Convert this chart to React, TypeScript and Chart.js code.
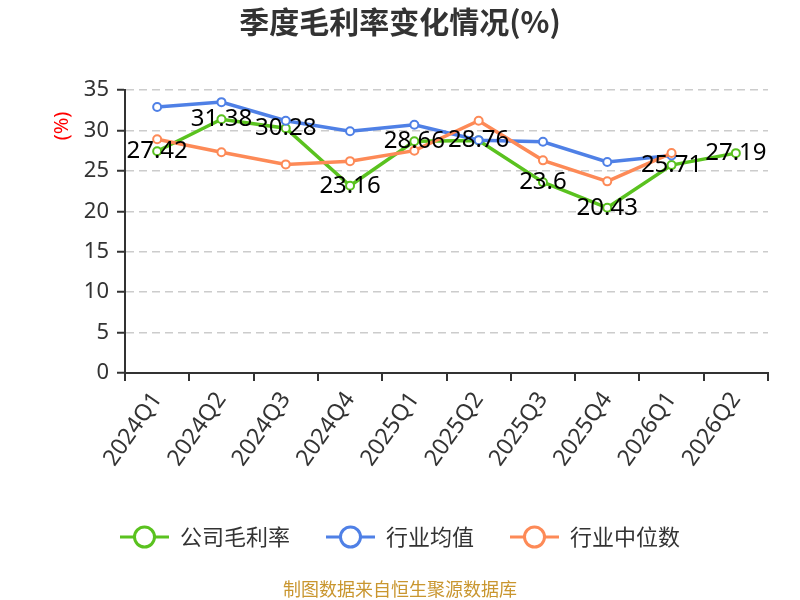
import React, { useEffect, useRef } from "react";
import { Chart, registerables } from "chart.js";

Chart.register(...registerables);

const categories = ["2024Q1", "2024Q2", "2024Q3", "2024Q4", "2025Q1", "2025Q2", "2025Q3", "2025Q4", "2026Q1", "2026Q2"];
const companyMargin = [27.42, 31.38, 30.28, 23.16, 28.66, 28.76, 23.6, 20.43, 25.71, 27.19];
const industryAvg = [32.9, 33.5, 31.2, 29.9, 30.7, 28.8, 28.6, 26.1, 26.9, null];
const industryMedian = [28.9, 27.3, 25.8, 26.2, 27.5, 31.2, 26.3, 23.7, 27.2, null];
const seriesNames = ["公司毛利率", "行业均值", "行业中位数"];
const seriesColors = ["#5ac21f", "#4f80e6", "#fd8a57"];
const titleText = "季度毛利率变化情况(%)";
const yTitleText = "(%)";
const footerText = "制图数据来自恒生聚源数据库";

const FONT = "'Noto Sans', 'Noto Sans CJK SC', sans-serif";

const labelPlugin = {
  id: "customDecor",
  afterDatasetsDraw(chart: any) {
    const ctx = chart.ctx;
    const meta = chart.getDatasetMeta(0);
    ctx.save();
    ctx.font = `24px ${FONT}`;
    ctx.fillStyle = "#000";
    ctx.textAlign = "center";
    ctx.textBaseline = "middle";
    meta.data.forEach((el: any, i: number) => {
      const v = companyMargin[i];
      if (v == null) return;
      ctx.fillText(String(v), el.x, el.y);
    });
    ctx.restore();
  },
  afterDraw(chart: any) {
    const ctx = chart.ctx;
    ctx.save();
    // title
    ctx.font = `bold 30px 'Noto Sans CJK SC', ${FONT}`;
    ctx.fillStyle = "#333";
    ctx.textAlign = "center";
    ctx.textBaseline = "middle";
    ctx.fillText(titleText, 400, 22);
    // y title
    ctx.save();
    ctx.translate(62, 126);
    ctx.rotate(-Math.PI / 2);
    ctx.font = `20px ${FONT}`;
    ctx.fillStyle = "#ff0000";
    ctx.fillText(yTitleText, 0, 0);
    ctx.restore();
    // legend
    ctx.font = `22px 'Noto Sans CJK SC', ${FONT}`;
    const iconW = 49, gapText = 11, gapItem = 36;
    const widths = seriesNames.map((n) => ctx.measureText(n).width);
    const total = widths.reduce((a, b) => a + b, 0) + seriesNames.length * (iconW + gapText) + (seriesNames.length - 1) * gapItem;
    let x = 400 - total / 2;
    const ly = 537;
    seriesNames.forEach((n, i) => {
      ctx.strokeStyle = seriesColors[i];
      ctx.lineWidth = 3;
      ctx.beginPath();
      ctx.moveTo(x, ly);
      ctx.lineTo(x + iconW, ly);
      ctx.stroke();
      ctx.beginPath();
      ctx.arc(x + iconW / 2, ly, 10, 0, Math.PI * 2);
      ctx.fillStyle = "#fff";
      ctx.fill();
      ctx.stroke();
      ctx.fillStyle = "#333";
      ctx.textAlign = "left";
      ctx.textBaseline = "middle";
      ctx.fillText(n, x + iconW + gapText, ly);
      x += iconW + gapText + widths[i] + gapItem;
    });
    // footer
    ctx.font = `18px 'Noto Sans CJK SC', ${FONT}`;
    ctx.fillStyle = "#c9962f";
    ctx.textAlign = "center";
    ctx.fillText(footerText, 400, 589);
    ctx.restore();
  },
};

export default function App() {
  const ref = useRef<HTMLCanvasElement>(null);
  useEffect(() => {
    document.body.style.margin = "0";
    const mk = (i: number, data: any[], order: number) => ({
      label: seriesNames[i],
      data,
      borderColor: seriesColors[i],
      backgroundColor: "#fff",
      borderWidth: 3.5,
      pointRadius: 4,
      pointBorderWidth: 2,
      pointBackgroundColor: "#fff",
      pointBorderColor: seriesColors[i],
      tension: 0,
      order,
      spanGaps: false,
    });
    const chart = new Chart(ref.current!, {
      type: "line",
      data: {
        labels: categories,
        datasets: [mk(0, companyMargin, 3), mk(1, industryAvg, 2), mk(2, industryMedian, 1)],
      },
      options: {
        animation: false,
        responsive: false,
        devicePixelRatio: 1,
        layout: { padding: { top: 90, left: 0, right: 32, bottom: 117 } },
        plugins: { legend: { display: false }, tooltip: { enabled: false }, title: { display: false } },
        scales: {
          x: {
            offset: true,
            grid: { drawOnChartArea: false, drawTicks: true, tickLength: 8, tickColor: "#333", offset: true, lineWidth: 2 },
            border: { display: true, color: "#333", width: 2 },
            ticks: { color: "#333", font: { size: 23, family: FONT }, maxRotation: 55, minRotation: 55, padding: 6, autoSkip: false },
            afterFit: (s: any) => { s.height = 110; },
          },
          y: {
            min: 0,
            max: 35,
            ticks: { stepSize: 5, color: "#333", font: { size: 22, family: FONT }, padding: 8 },
            grid: { color: "#cccccc", lineWidth: 1.5, tickColor: "#333", tickLength: 8, tickBorderDash: [], tickWidth: 2 },
            border: { display: true, color: "#333", width: 2, dash: [8, 5] },
            afterFit: (s: any) => { s.width = 125; },
          },
        },
      },
      plugins: [labelPlugin],
    });
    return () => chart.destroy();
  }, []);
  return <canvas ref={ref} width={800} height={600} style={{ display: "block" }} />;
}
